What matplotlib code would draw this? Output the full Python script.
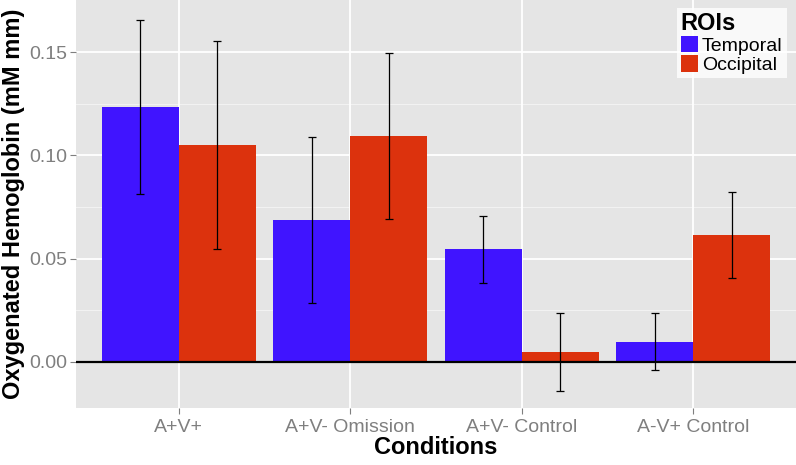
#!/usr/bin/env python3
import numpy as np
import matplotlib
matplotlib.use("Agg")
import matplotlib.pyplot as plt
from matplotlib.patches import Patch

# --- data ---
conditions = ['A+V+', 'A+V- Omission', 'A+V- Control', 'A-V+ Control']
temporal = [0.1233, 0.0687, 0.0545, 0.0097]
temporal_err = [0.0422, 0.0404, 0.0163, 0.0138]
occipital = [0.1049, 0.1093, 0.0048, 0.0613]
occipital_err = [0.0503, 0.0402, 0.0191, 0.0209]

blue = '#4014FF'
red = '#DC320D'
tick_grey = '#7F7F7F'

plt.rcParams['font.family'] = ['Liberation Sans', 'DejaVu Sans']

fig = plt.figure(figsize=(7.96, 4.65), dpi=100)
ax = fig.add_axes([76 / 796, 1 - 408 / 465, 1 - 76 / 796, 408 / 465])
ax.set_facecolor('#E5E5E5')

x = np.arange(len(conditions))
w = 0.45

# grid (ggplot style)
for v in [0.025, 0.075, 0.125]:
    ax.axhline(v, color='#F2F2F2', linewidth=0.8, zorder=0)
for v in [0.0, 0.05, 0.10, 0.15]:
    ax.axhline(v, color='white', linewidth=1.3, zorder=0)
for xi in x:
    ax.axvline(xi, color='white', linewidth=1.3, zorder=0)

ax.bar(x - w / 2, temporal, width=w, color=blue, zorder=2)
ax.bar(x + w / 2, occipital, width=w, color=red, zorder=2)
ax.errorbar(x - w / 2, temporal, yerr=temporal_err, fmt='none', ecolor='black',
            elinewidth=0.9, capsize=3, capthick=0.9, zorder=3)
ax.errorbar(x + w / 2, occipital, yerr=occipital_err, fmt='none', ecolor='black',
            elinewidth=0.9, capsize=3, capthick=0.9, zorder=3)
ax.axhline(0, color='black', linewidth=1.6, zorder=4)

ax.set_xlim(-0.6, 3.6)
ax.set_ylim(-0.0223, 0.1752)
ax.set_yticks([0.0, 0.05, 0.10, 0.15])
ax.set_yticklabels(['0.00', '0.05', '0.10', '0.15'])
ax.set_xticks(x)
ax.set_xticklabels(conditions)
ax.tick_params(axis='both', colors=tick_grey, labelcolor=tick_grey,
               labelsize=14, length=4, width=0.8, pad=2)
ax.tick_params(axis='x', pad=4)

for s in ax.spines.values():
    s.set_visible(False)

ax.set_xlabel('Conditions', fontsize=17, fontweight='bold', labelpad=0)
ax.set_ylabel('Oxygenated Hemoglobin (mM mm)', fontsize=17, fontweight='bold')
ax.yaxis.set_label_coords(-0.071, 0.5)

handles = [Patch(facecolor=blue, edgecolor='none'), Patch(facecolor=red, edgecolor='none')]
leg = ax.legend(handles, ['Temporal', 'Occipital'], title='ROIs', loc='upper right',
                bbox_to_anchor=(0.995, 0.995), fontsize=14, frameon=True, fancybox=False,
                handlelength=0.9, handleheight=0.9, handletextpad=0.2, labelspacing=0.05,
                borderpad=0.2, borderaxespad=0.3)
leg.get_title().set_fontweight('bold')
leg.get_title().set_fontsize(17)
leg._legend_box.align = 'left'
leg.get_frame().set_edgecolor('white')
leg.get_frame().set_linewidth(0)

fig.savefig('out.png', dpi=100)
